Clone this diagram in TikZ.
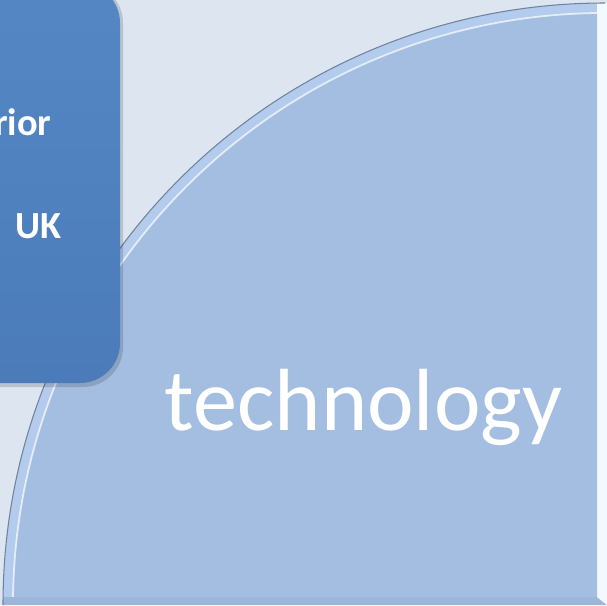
\documentclass[tikz,border=0pt]{standalone}
\usepackage{fontspec}
\setmainfont{Carlito}
\usetikzlibrary{positioning}

\definecolor{pagebg}{HTML}{DCE5F0}
\definecolor{pieface}{HTML}{A4BEE2}
\definecolor{pieedge}{HTML}{6F849C}
\definecolor{piebevel}{HTML}{B3CBEC}
\definecolor{piehigh}{HTML}{F2F9FF}
\definecolor{pieshade}{HTML}{9CB6D9}
\definecolor{boxtop}{HTML}{5587C5}
\definecolor{boxbot}{HTML}{4B7CB9}

\begin{document}
\begin{tikzpicture}[x = 0.01cm, y = 0.01cm,
    boxtext/.style = {text = white, inner sep = 0pt, font = \bfseries\fontsize{10.9}{13}\selectfont},
    bigtext/.style = {text = white, inner sep = 0pt, font = \fontsize{25.1}{30}\selectfont}]

    \useasboundingbox (0,0) rectangle (607,605);
    \clip (0,0) rectangle (607,605);
    \fill[pagebg] (0,0) rectangle (607,605);

    \def\Rout{602}
    \def\Rin{592}
    \coordinate (C) at (605,0);

    % quarter disc, bevel strips first
    \begin{scope}
        \clip (C) ++(-\Rout,0) arc[start angle = 180, end angle = 90, radius = \Rout] -- (607,602) -- (607,0) -- cycle;
        \fill[piebevel] (0,0) rectangle (607,605);
        \fill[pieshade] (0,0) -- (607,0) -- (597,8) -- (0,8) -- cycle;
        \fill[piehigh] (597,8) -- (607,0) -- (607,605) -- (597,605) -- cycle;
    \end{scope}

    \fill[pieface] (597,8) -- (597,592) arc[start angle = 90.77, end angle = 179.23, radius = \Rin] -- cycle;
    \draw[white, opacity = 0.7, line width = 0.5pt] (597,592) arc[start angle = 90.77, end angle = 179.23, radius = \Rin];
    \draw[pieedge, line width = 0.3pt] (C) ++(-\Rout,0) arc[start angle = 180, end angle = 90, radius = \Rout];

    % box on top
    \fill[black, opacity = 0.15, rounded corners = 4mm] (-58,218) rectangle (123,622);
    \shade[top color = boxtop, bottom color = boxbot, rounded corners = 4mm] (-60,222) rectangle (120,622);

    \node[boxtext, anchor = base east] (rior) at (52,470) {rior};
    \node[boxtext, anchor = base east] (uk) at (62,367) {UK};
    \node[bigtext, anchor = base] (tech) at (363.5,175) {technology};

\end{tikzpicture}
\end{document}
